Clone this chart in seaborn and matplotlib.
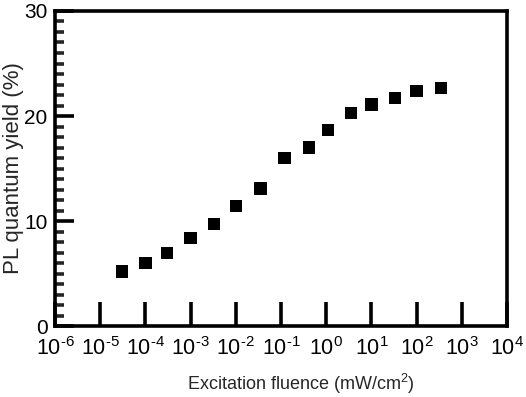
import numpy as np
import pandas as pd
import matplotlib
matplotlib.use("Agg")
import matplotlib.pyplot as plt
import seaborn as sns
from matplotlib.ticker import FixedLocator, MultipleLocator, NullLocator

# data
fluence = [3e-5, 1e-4, 3e-4, 1e-3, 3.3e-3, 1e-2, 3.5e-2, 0.12, 0.42, 1.1,
           3.5, 10, 33, 100, 350]
pl_yield = [5.2, 6.0, 6.95, 8.4, 9.7, 11.4, 13.1, 16.0, 17.0, 18.7,
            20.3, 21.1, 21.7, 22.4, 22.7]
decades = list(range(-6, 5))
y_major = [0, 10, 20, 30]

df = pd.DataFrame({"fluence": fluence, "yield": pl_yield})

sns.set_style("ticks")
plt.rcParams['font.family'] = ['Liberation Sans', 'DejaVu Sans']
plt.rcParams['mathtext.fontset'] = 'custom'
plt.rcParams['mathtext.rm'] = 'Liberation Sans'

fig = plt.figure(figsize=(5.26, 3.97), dpi=100)
ax = fig.add_axes([0.1046, 0.1788, 0.8593, 0.7935])

sns.scatterplot(data=df, x="fluence", y="yield", marker="s", s=78,
                color="black", edgecolor="none", ax=ax, legend=False)

ax.set_xscale("log")
ax.set_xlim(1e-6, 1e4)
ax.set_ylim(0, 30)

ax.xaxis.set_major_locator(FixedLocator([10.0 ** d for d in decades]))
ax.xaxis.set_minor_locator(NullLocator())
ax.set_xticklabels([r"$\mathregular{10^{\text{%d}}}$" % d for d in decades])
ax.yaxis.set_major_locator(FixedLocator(y_major))
ax.yaxis.set_minor_locator(MultipleLocator(1))

for sp in ax.spines.values():
    sp.set_linewidth(2.6)
    sp.set_color("black")

ax.tick_params(axis="x", which="major", direction="in", length=17, width=2.6,
               labelsize=15.5, pad=8, colors="black")
ax.tick_params(axis="y", which="major", direction="in", length=14, width=2.6,
               labelsize=15, pad=5.5, colors="black")
ax.tick_params(axis="y", which="minor", direction="in", length=6.5, width=2.6)

ax.set_xlabel("Excitation fluence (mW/cm$^{2}$)", fontsize=13)
ax.set_ylabel("PL quantum yield (%)", fontsize=16)
ax.xaxis.set_label_coords(0.544, -0.146)
ax.yaxis.set_label_coords(-0.068, 0.5)

fig.savefig("out.png", dpi=100)
